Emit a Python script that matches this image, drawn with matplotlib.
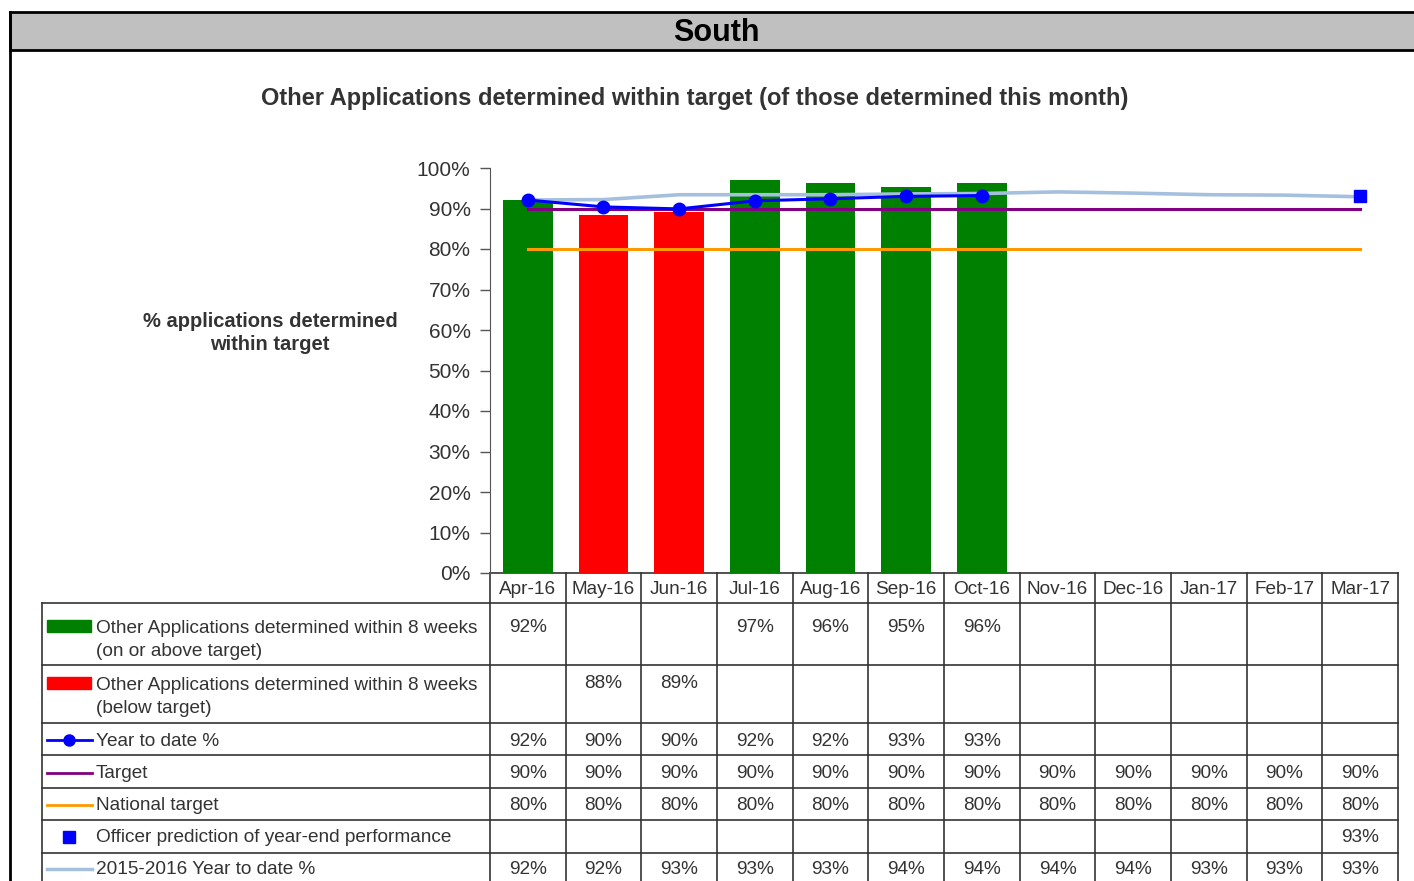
import numpy as np
import matplotlib
matplotlib.use('Agg')
import matplotlib.pyplot as plt
from matplotlib.patches import Rectangle

plt.rcParams['font.family'] = ['Liberation Sans', 'DejaVu Sans']

# 数据
months = ['Apr-16', 'May-16', 'Jun-16', 'Jul-16', 'Aug-16', 'Sep-16',
          'Oct-16', 'Nov-16', 'Dec-16', 'Jan-17', 'Feb-17', 'Mar-17']
on_target = [92.1, None, None, 97.0, 96.3, 95.3, 96.3, None, None, None, None, None]
below_target = [None, 88.4, 89.1, None, None, None, None, None, None, None, None, None]
ytd = [92.1, 90.4, 89.9, 91.9, 92.4, 93.0, 93.2, None, None, None, None, None]
target = [90] * 12
national = [80] * 12
prediction = [None] * 11 + [93.2]
prev_ytd = [92.1, 92.2, 93.4, 93.4, 93.4, 93.6, 93.7, 94.1, 93.8, 93.4, 93.3, 92.9]

TXT = '#333333'
W, H = 1414, 881
fig = plt.figure(figsize=(W / 100, H / 100), dpi=100)

# 图表区
x0, x1, y0, y1 = 490, 1398, 573, 168
ax = fig.add_axes([x0 / W, 1 - y0 / H, (x1 - x0) / W, (y0 - y1) / H])
x = np.arange(12)

def arr(v):
    return np.array([np.nan if a is None else a for a in v], dtype=float)

ax.bar(x, np.nan_to_num(arr(on_target)), width=0.66, color='#008000', zorder=1)
ax.bar(x, np.nan_to_num(arr(below_target)), width=0.66, color='#ff0000', zorder=1)
ax.plot(x, national, color='#ff9900', lw=2.2, zorder=2)
ax.plot(x, target, color='#800080', lw=2.2, zorder=2)
ax.plot(x, prev_ytd, color='#a5c0df', lw=2.6, zorder=3)
ax.plot(x, arr(ytd), color='#0000ff', lw=2.2, marker='o', ms=9, zorder=4)
ax.plot(x, arr(prediction), color='#0000ff', marker='s', ms=9, ls='none', zorder=5)

ax.set_xlim(-0.5, 11.5)
ax.set_ylim(0, 100)
ax.set_yticks(range(0, 101, 10))
ax.set_yticklabels([f'{v}%' for v in range(0, 101, 10)], fontsize=15, color=TXT)
ax.tick_params(axis='y', length=7, width=1, color='#555555', pad=7)
ax.set_xticks([])
for s in ['top', 'right', 'bottom']:
    ax.spines[s].set_visible(False)
ax.spines['left'].set_color('#555555')
ax.set_facecolor('none')

# 表格与框架（像素坐标）
ov = fig.add_axes([0, 0, 1, 1], zorder=-1)
ov.set_xlim(0, W)
ov.set_ylim(H, 0)
ov.axis('off')

ov.add_patch(Rectangle((10, 12), W, 38, facecolor='#c0c0c0', edgecolor='black', lw=2))
ov.plot([10, 10], [12, H], color='black', lw=2)
ov.text(716, 33, 'South', fontsize=22, fontweight='bold', ha='center', va='center', color='black')
ov.text(695, 99, 'Other Applications determined within target (of those determined this month)',
        fontsize=17, fontweight='bold', ha='center', va='center', color=TXT)
ov.text(270, 333, '% applications determined\nwithin target', fontsize=14.5, fontweight='bold',
        ha='center', va='center', color=TXT, linespacing=1.3)

cw = (x1 - x0) / 12
edges = [x0 + i * cw for i in range(13)]
rows = [603, 665, 723, 755, 788, 820, 853]
lc = '#333333'
ov.plot([x0, x1], [573, 573], color=lc, lw=1.2)
for r in rows:
    ov.plot([42, x1], [r, r], color=lc, lw=1.2)
for e in edges:
    ov.plot([e, e], [573, H], color=lc, lw=1.2)
ov.plot([42, 42], [603, H], color=lc, lw=1.2)

for i, m in enumerate(months):
    ov.text(edges[i] + cw / 2, 590, m, fontsize=13.7, ha='center', va='center', color=TXT)

def pct(v):
    return '' if v is None else f'{round(v):.0f}%'

series = [on_target, below_target, ytd, target, national, prediction, prev_ytd]
val_y = [627, 684, 741, 773, 806, 838, 870]
for vals, yy in zip(series, val_y):
    for i, v in enumerate(vals):
        ov.text(edges[i] + cw / 2, yy, pct(v), fontsize=13.7, ha='center', va='center', color=TXT)

# 图例列
labels = ['Other Applications determined within 8 weeks\n(on or above target)',
          'Other Applications determined within 8 weeks\n(below target)',
          'Year to date %', 'Target', 'National target',
          'Officer prediction of year-end performance', '2015-2016 Year to date %']
lab_y = [640, 697, 741, 773, 806, 838, 870]
for lab, yy in zip(labels, lab_y):
    ov.text(96, yy, lab, fontsize=13.7, ha='left', va='center', color=TXT, linespacing=1.45)

ov.add_patch(Rectangle((47, 620), 44, 12, color='#008000'))
ov.add_patch(Rectangle((47, 677), 44, 12, color='#ff0000'))
ov.plot([47, 92], [740, 740], color='#0000ff', lw=2)
ov.plot([69], [740], marker='o', color='#0000ff', ms=8)
ov.plot([47, 92], [773, 773], color='#800080', lw=2)
ov.plot([47, 92], [805, 805], color='#ff9900', lw=2)
ov.plot([69], [837], marker='s', color='#0000ff', ms=8, ls='none')
ov.plot([47, 92], [869, 869], color='#a5c0df', lw=2.5)

fig.savefig('out.png', dpi=100)
